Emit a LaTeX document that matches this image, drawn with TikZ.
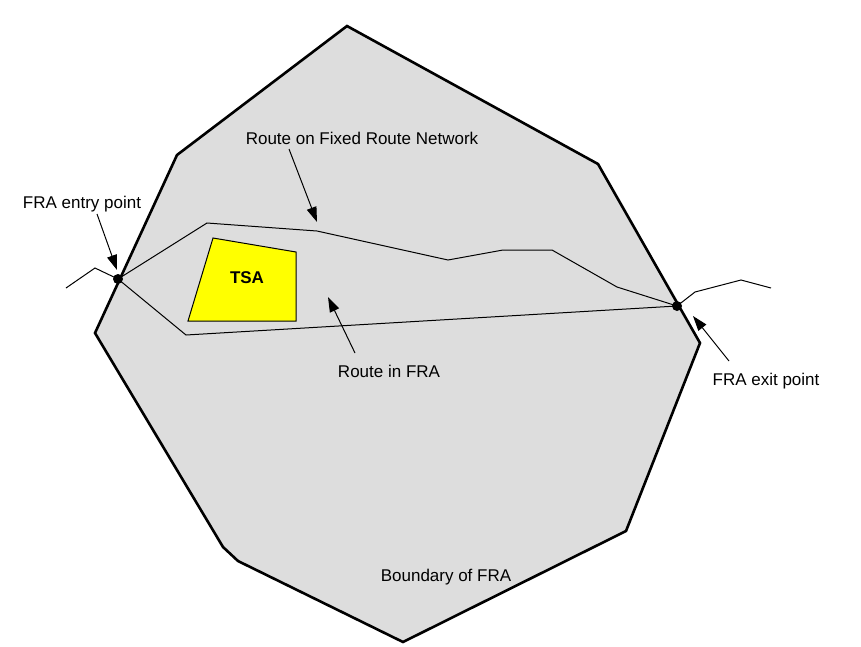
\documentclass[tikz,border=0pt]{standalone}
\usepackage{fontspec}
\setmainfont{Liberation Sans}
\usetikzlibrary{arrows.meta}
\definecolor{fragray}{RGB}{221,221,221}
\definecolor{tsayellow}{RGB}{255,255,0}
\tikzset{
  boundary/.style={draw=black, line width=2.6pt, fill=fragray, line join=miter},
  route/.style={draw=black, line width=1pt},
  pointer/.style={line width=1pt, -{Triangle[length=15pt,width=10pt]}},
  lbl/.style={font=\fontsize{17}{20}\selectfont, inner sep=0pt, text=black}
}
\begin{document}
\begin{tikzpicture}[x=1pt, y=-1pt]
        \useasboundingbox (0, 0) rectangle (861, 646);

        \coordinate (B1) at (347, 26);
        \coordinate (B2) at (598, 164);
        \coordinate (B3) at (700, 343);
        \coordinate (B4) at (626, 531);
        \coordinate (B5) at (403, 642);
        \coordinate (B6) at (238, 561);
        \coordinate (B7) at (223, 547);
        \coordinate (B8) at (95, 333);
        \coordinate (B9) at (177, 155);

        \coordinate (entry) at (118, 279);
        \coordinate (exit) at (677, 306);

        \draw[boundary] (B1) -- (B2) -- (B3) -- (B4) -- (B5) -- (B6) -- (B7) -- (B8) -- (B9) -- cycle;

        \draw[fill=tsayellow, draw=black, line width=1pt] (213, 238) -- (296, 252) -- (296, 321) -- (188, 321) -- cycle;
        \node[lbl, font=\fontsize{17}{20}\selectfont\bfseries] (tsa) at (247, 278) {TSA};

        % routes
        \draw[route] (66, 288) -- (95, 268) -- (entry);
        \draw[route] (entry) -- (207, 223) -- (317, 231) -- (448, 260) -- (503, 250) -- (552, 250) -- (617, 287) -- (exit);
        \draw[route] (entry) -- (186, 335) -- (exit);
        \draw[route] (exit) -- (695, 292) -- (741, 280) -- (771, 288);

        \fill (entry) circle[radius=5];
        \fill (exit) circle[radius=5];

        % labels
        \node[lbl] (entrylbl) at (82, 204) {FRA entry point};
        \node[lbl] (networklbl) at (362, 138) {Route on Fixed Route Network};
        \node[lbl] (inlbl) at (389, 371) {Route in FRA};
        \node[lbl] (exitlbl) at (766, 381) {FRA exit point};
        \node[lbl] (boundarylbl) at (446, 577) {Boundary of FRA};

        \coordinate (entrytail) at (97, 214);
        \coordinate (networktail) at (289, 149);
        \coordinate (intail) at (355, 353);
        \coordinate (exittail) at (729, 361);
        \coordinate (entrytip) at (117, 270);
        \coordinate (networktip) at (317, 222);
        \coordinate (intip) at (328, 297);
        \coordinate (exittip) at (693, 316);

        \draw[pointer] (entrytail) -- (entrytip);
        \draw[pointer] (networktail) -- (networktip);
        \draw[pointer] (intail) -- (intip);
        \draw[pointer] (exittail) -- (exittip);
    \end{tikzpicture}
\end{document}
